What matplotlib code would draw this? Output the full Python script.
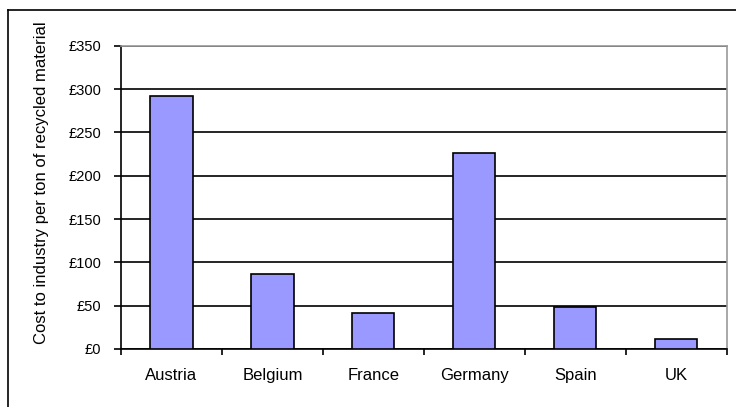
import matplotlib
matplotlib.use('Agg')
import matplotlib.pyplot as plt
from matplotlib.lines import Line2D

# データ
countries = ['Austria', 'Belgium', 'France', 'Germany', 'Spain', 'UK']
cost = [292, 87, 42, 226, 49, 12]
yticks = [0, 50, 100, 150, 200, 250, 300, 350]
ytick_labels = ['£0', '£50', '£100', '£150', '£200', '£250', '£300', '£350']

plt.rcParams['font.family'] = ['Liberation Sans', 'DejaVu Sans']

fig = plt.figure(figsize=(7.36, 4.07), dpi=100)
ax = fig.add_axes([121 / 736, 1 - 349 / 407, (726.5 - 121) / 736, (349 - 45.7) / 407])

x = list(range(len(countries)))
ax.bar(x, cost, width=0.42, color='#9999ff', edgecolor='black', linewidth=1.2, zorder=3)

# 軸設定
ax.set_xlim(-0.5, len(countries) - 0.5)
ax.set_ylim(0, 350)
ax.set_yticks(yticks)
ax.set_yticklabels(ytick_labels, fontsize=10.5)
ax.yaxis.grid(True, color='black', linewidth=1.2, zorder=0)
ax.set_axisbelow(True)
ax.tick_params(axis='y', direction='out', length=5, width=1.2, pad=9)

# x軸: カテゴリ境界に目盛り、ラベルは中央
ax.set_xticks([i - 0.5 for i in range(len(countries) + 1)])
ax.set_xticklabels([])
ax.set_xticks(x, minor=True)
ax.set_xticklabels(countries, minor=True, fontsize=12)
ax.tick_params(axis='x', which='major', direction='out', length=4, width=1.2)
ax.tick_params(axis='x', which='minor', length=0, pad=14)

for side in ['left', 'bottom']:
    ax.spines[side].set_color('black')
    ax.spines[side].set_linewidth(1.2)
for side in ['top', 'right']:
    ax.spines[side].set_color('#999999')
    ax.spines[side].set_linewidth(1.2)

fig.text(42 / 736, 1 - 182.5 / 407, 'Cost to industry per ton of recycled material',
         rotation=90, ha='center', va='center', fontsize=12)

# 外枠（上と左のみ見える）
fig.add_artist(Line2D([8 / 736, 1.0], [1 - 10 / 407, 1 - 10 / 407], color='black', linewidth=1.2))
fig.add_artist(Line2D([8 / 736, 8 / 736], [0, 1 - 10 / 407], color='black', linewidth=1.2))

fig.savefig('out.png', dpi=100)
